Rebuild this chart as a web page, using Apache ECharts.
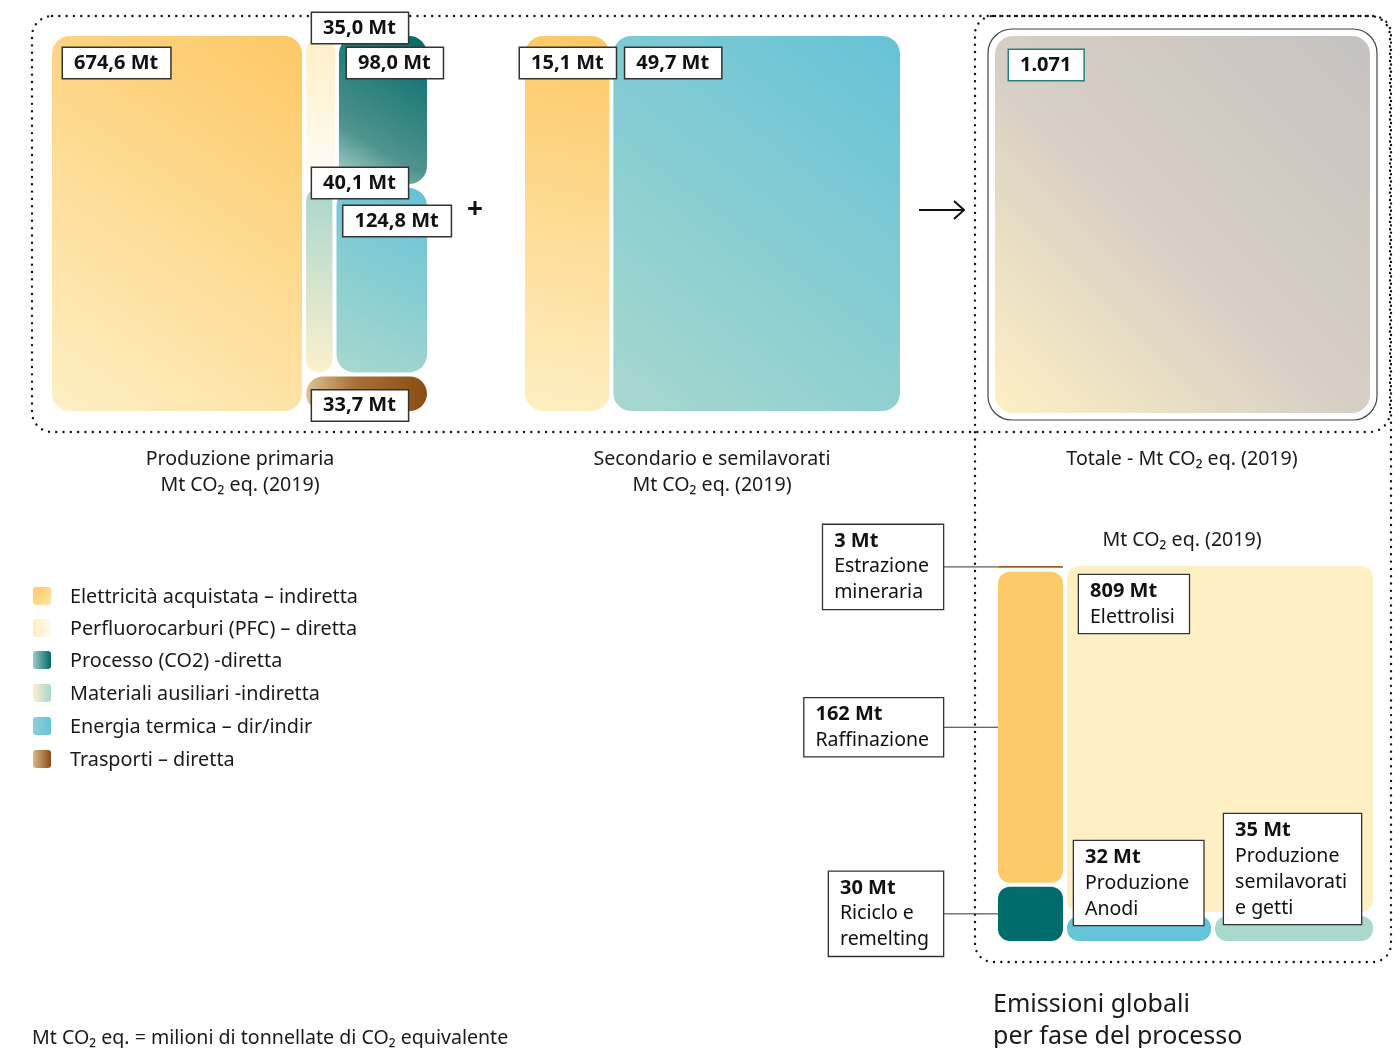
<!DOCTYPE html>
<html><head><meta charset="utf-8">
<script src="https://cdn.jsdelivr.net/npm/echarts@6/dist/echarts.min.js"></script>
<style>html,body{margin:0;padding:0;background:#fff}#c{width:1400px;height:1048px}</style>
</head><body><div id="c"></div>
<script>
// ---------- DATA ----------
const categories = ['Elettricità acquistata – indiretta','Perfluorocarburi (PFC) – diretta','Processo (CO2) -diretta','Materiali ausiliari -indiretta','Energia termica – dir/indir','Trasporti – diretta'];
const primaryValues = [674.6, 35.0, 98.0, 40.1, 124.8, 33.7];
const secondaryCategoryIndex = [0, 4];
const secondaryValues = [15.1, 49.7];
const totalValues = [1071];
const phaseNames = ['Estrazione\nmineraria','Raffinazione','Riciclo e\nremelting','Elettrolisi','Produzione\nAnodi','Produzione\nsemilavorati\ne getti'];
const phaseValues = [3, 162, 30, 809, 32, 35];
const captionPrimary = ['Produzione primaria', 'Mt CO₂ eq. (2019)'];
const captionSecondary = ['Secondario e semilavorati', 'Mt CO₂ eq. (2019)'];
const captionTotal = 'Totale - Mt CO₂ eq. (2019)';
const captionPhases = 'Mt CO₂ eq. (2019)';
const footnote = 'Mt CO₂ eq. = milioni di tonnellate di CO₂ equivalente';
const phaseTitle = ['Emissioni globali', 'per fase del processo'];

// slice-and-dice structures (which values are grouped together)
const primaryTree = {d:'h', c:[0, {d:'v', c:[{d:'h', c:[1,2]}, {d:'h', c:[3,4]}, 5]}]};
const secondaryTree = {d:'h', c:[0,1]};
const totalTree = 0;
const phaseTree = {d:'h', c:[{d:'v', c:[0,1,2]}, {d:'v', c:[3, {d:'h', c:[4,5]}]}]};

// ---------- STYLE ----------
const FONT = '"Noto Sans", sans-serif';
const GAP = 4;
const gradN = (x0,y0,x1,y1,stops) => new echarts.graphic.LinearGradient(x0,y0,x1,y1,stops.map(s=>({offset:s[0],color:s[1]})));
const grad = (x0,y0,x1,y1,c0,c1) => gradN(x0,y0,x1,y1,[[0,c0],[1,c1]]);
const categoryFill = [
  () => grad(0,1,1,0,'#FEEFC4','#FDC865'),
  () => grad(0,1,0,0,'#FFFDF8','#FEEFC6'),
  () => gradN(0,1,1,0,[[0,'#B2D9CF'],[0.3,'#4F938E'],[1,'#006A6A']]),
  () => grad(0,1,0,0,'#FDF0CB','#A9D7CE'),
  () => grad(0,1,1,0,'#A8D8CE','#66C2D7'),
  () => gradN(0,0.5,1,0.5,[[0,'#DDC392'],[0.4,'#A8713A'],[1,'#8A4C12']])
];
const swatchFill = [
  () => grad(0,0,1,1,'#FDC865','#FEE6A8'),
  () => grad(0,0,1,0,'#FEEDC0','#FFFBF2'),
  () => grad(0,0,1,0,'#9CCBC4','#00696A'),
  () => grad(0,0,1,0,'#FDF0CB','#A9D7CE'),
  () => grad(0,0,1,0,'#8ED0DB','#66C2D7'),
  () => grad(0,0,1,0,'#D9BB88','#8A4C12')
];
const totalFill = () => gradN(0,1,1,0,[[0,'#FEF0C4'],[0.45,'#D8D0C5'],[1,'#C6C2C0']]);
const phaseColors = ['#9C5B20','#FDCA6A','#006B6B','#FEEFC4','#65C4D8','#A9D8CE'];
const primaryLabelOffset = [[11,12],[6,-23],[8,12],[6,-20],[7,18],[6,14]];
const secondaryLabelOffset = [[-5,12],[12,12]];
const phaseLabelOffset = [null, null, null, [12,9],[7,-75],[9,-102]];

// ---------- LAYOUT ----------
function sumNode(n, vals){ return typeof n === 'number' ? vals[n] : n.c.reduce((s,k)=>s+sumNode(k,vals),0); }
function sliceDice(n, vals, x0,y0,x1,y1,out){
  if (typeof n === 'number'){ out[n] = [x0,y0,x1,y1,n]; return out; }
  const tot = sumNode(n, vals);
  let pos = n.d==='h' ? x0 : y0;
  const span = n.d==='h' ? x1-x0 : y1-y0;
  n.c.forEach(k => {
    const f = sumNode(k, vals)/tot*span;
    if (n.d==='h') sliceDice(k, vals, pos, y0, pos+f, y1, out);
    else sliceDice(k, vals, x0, pos, x1, pos+f, out);
    pos += f;
  });
  return out;
}
const fmt1 = v => v.toFixed(1).replace('.', ',') + ' Mt';
const fmtThousands = v => String(v).replace(/\B(?=(\d{3})+(?!\d))/g, '.');

function boxText(text, x, y, border){
  return {type:'text', x, y, z2:100, style:{text, fill:'#111', fontFamily:FONT, fontWeight:'bold', fontSize:20, lineHeight:22,
    backgroundColor:'#fff', borderColor:border||'#333', borderWidth:1.5, padding:[4,12,4,11]}};
}
function rectGeom(api, radius){
  const a = api.coord([api.value(0), api.value(1)]);
  const b = api.coord([api.value(2), api.value(3)]);
  const g = GAP/2;
  const x = a[0]+g, y = a[1]+g;
  const w = Math.max(b[0]-a[0]-2*g, 1), h = Math.max(b[1]-a[1]-2*g, 1);
  return {x, y, width:w, height:h, r: Math.min(radius, w/2, h/2)};
}
const rich = {
  b:{fontFamily:FONT, fontWeight:'bold', fontSize:20, lineHeight:26, align:'left', fill:'#111'},
  r:{fontFamily:FONT, fontSize:19.5, lineHeight:26, align:'left', fill:'#111'}
};

const primaryRender = (params, api) => {
  const i = api.value(4), s = rectGeom(api, 18);
  const o = primaryLabelOffset[i];
  return {type:'group', children:[
    {type:'rect', shape:s, style:{fill:categoryFill[i]()}},
    boxText(fmt1(primaryValues[i]), s.x+o[0], s.y+o[1])
  ]};
};
const secondaryRender = (params, api) => {
  const i = api.value(4), s = rectGeom(api, 18);
  const o = secondaryLabelOffset[i];
  return {type:'group', children:[
    {type:'rect', shape:s, style:{fill:categoryFill[secondaryCategoryIndex[i]]()}},
    boxText(fmt1(secondaryValues[i]), s.x+o[0], s.y+o[1])
  ]};
};
const totalRender = (params, api) => {
  const s = rectGeom(api, 18);
  return {type:'group', children:[
    {type:'rect', shape:{x:s.x-7,y:s.y-7,width:s.width+14,height:s.height+14,r:24}, style:{fill:'none', stroke:'#444', lineWidth:1.2}},
    {type:'rect', shape:s, style:{fill:totalFill()}},
    boxText(fmtThousands(totalValues[0]), s.x+14, s.y+14, '#2B7E7B')
  ]};
};
const phaseRender = (params, api) => {
  const i = api.value(4), s = rectGeom(api, 12);
  const text = '{b|' + phaseValues[i] + ' Mt}\n{r|' + phaseNames[i] + '}';
  const children = [{type:'rect', shape:s, style:{fill:phaseColors[i]}}];
  const o = phaseLabelOffset[i];
  const lstyle = {text, rich, fill:'#111', backgroundColor:'#fff', borderColor:'#333', borderWidth:1.3, padding:[3,14,3,11]};
  if (o){
    children.push({type:'text', x:s.x+o[0], y:s.y+o[1], z2:100, style:lstyle});
  } else {
    const cy = s.y + s.height/2, bx = s.x - 55;
    children.push({type:'line', shape:{x1:bx, y1:cy, x2:s.x, y2:cy}, style:{stroke:'#333', lineWidth:1}});
    children.push({type:'text', x:bx, y:cy, z2:100, style:Object.assign({}, lstyle, {align:'right', verticalAlign:'middle'})});
  }
  return {type:'group', children};
};

const primaryData = sliceDice(primaryTree, primaryValues, 0,0,1,1, []);
const secondaryData = sliceDice(secondaryTree, secondaryValues, 0,0,1,1, []);
const totalData = sliceDice(totalTree, totalValues, 0,0,1,1, []);
const phaseData = sliceDice(phaseTree, phaseValues, 0,0,1,1, []);

const grids = [
  {left:50, top:34, width:379, height:379},
  {left:523, top:34, width:379, height:379},
  {left:993, top:34, width:379, height:381},
  {left:996, top:564, width:379, height:379}
];
const axisBase = {type:'value', min:0, max:1, show:false};

// ---------- DECOR ----------
const txt = (text, x, y, opt) => ({type:'text', x, y, style:Object.assign({text, fill:'#1a1a1a', fontFamily:FONT, fontSize:19.6, align:'center', verticalAlign:'middle'}, opt||{})});
const dotted = {fill:'none', stroke:'#111', lineWidth:2.4, lineDash:[0.01,7.3], lineCap:'round'};
const graphic = [
  {type:'rect', shape:{x:32,y:16,width:1358,height:416,r:20}, style:dotted, silent:true},
  {type:'rect', shape:{x:975,y:16,width:416,height:946,r:18}, style:dotted, silent:true},
  txt(captionPrimary[0], 240, 459), txt(captionPrimary[1], 240, 485),
  txt(captionSecondary[0], 712, 459), txt(captionSecondary[1], 712, 485),
  txt(captionTotal, 1182, 459),
  txt(captionPhases, 1182, 540),
  txt('+', 475, 210, {fontSize:28, fontWeight:'bold', fill:'#111'}),
  {type:'polyline', shape:{points:[[919,210],[964,210]]}, style:{stroke:'#111', lineWidth:2}},
  {type:'polyline', shape:{points:[[954,201],[964,210],[954,219]]}, style:{stroke:'#111', lineWidth:2, fill:'none'}},
  txt(footnote, 32, 1038, {align:'left'}),
  txt(phaseTitle[0], 993, 1005, {align:'left', fontSize:25}),
  txt(phaseTitle[1], 993, 1037, {align:'left', fontSize:25})
];
const legendY = [596, 628, 660, 693, 726, 759];
categories.forEach((c, i) => {
  graphic.push({type:'rect', shape:{x:33, y:legendY[i]-9, width:18, height:18, r:3}, style:{fill:swatchFill[i]()}});
  graphic.push(txt(c, 70, legendY[i]+1, {align:'left', fontSize:19.8}));
});

const chart = echarts.init(document.getElementById('c'), null, {renderer:'canvas'});
chart.setOption({
  animation:false,
  backgroundColor:'#fff',
  grid: grids,
  xAxis: grids.map((g,i)=>Object.assign({gridIndex:i}, axisBase)),
  yAxis: grids.map((g,i)=>Object.assign({gridIndex:i, inverse:true}, axisBase)),
  series: [
    {type:'custom', xAxisIndex:0, yAxisIndex:0, clip:false, renderItem:primaryRender, data:primaryData},
    {type:'custom', xAxisIndex:1, yAxisIndex:1, clip:false, renderItem:secondaryRender, data:secondaryData},
    {type:'custom', xAxisIndex:2, yAxisIndex:2, clip:false, renderItem:totalRender, data:totalData},
    {type:'custom', xAxisIndex:3, yAxisIndex:3, clip:false, renderItem:phaseRender, data:phaseData}
  ],
  graphic
});
</script></body></html>
